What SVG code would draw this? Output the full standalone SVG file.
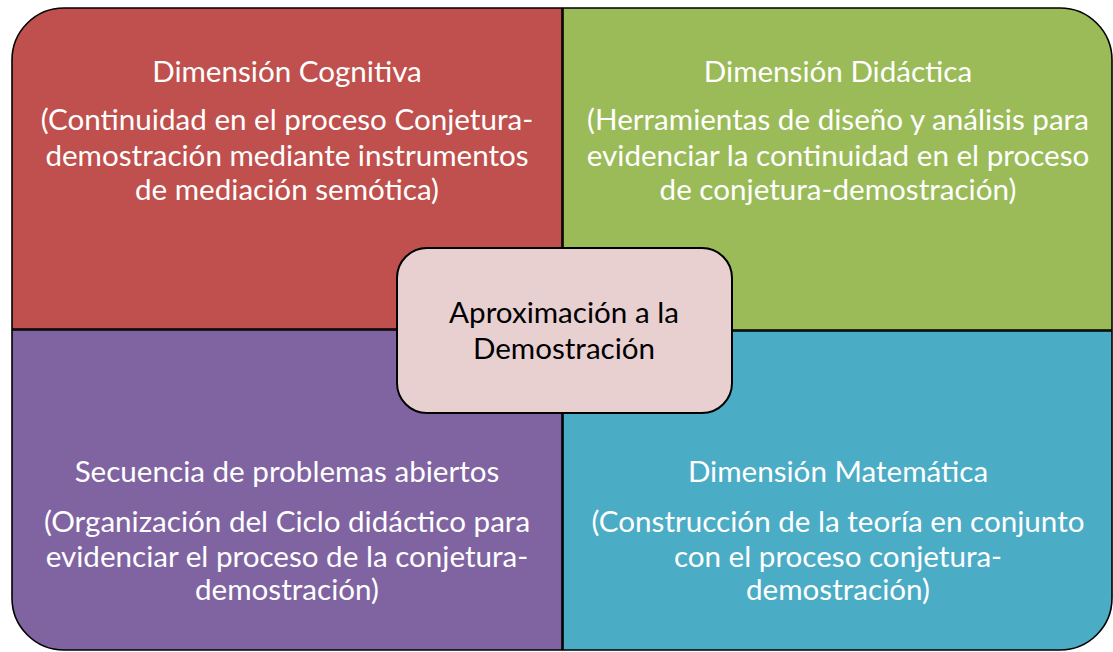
<svg xmlns="http://www.w3.org/2000/svg" width="1113" height="652" viewBox="0 0 1113 652">
  <style>
    .quad { stroke: #000; stroke-width: 1.6; }
    .lbl { font-family: Lato, "Liberation Sans", sans-serif; font-size: 29.6px; fill: #fff; text-anchor: middle; }
    .ctr { font-family: Lato, "Liberation Sans", sans-serif; font-size: 29.6px; fill: #000; text-anchor: middle; }
    .glint { fill: none; stroke-width: 4; stroke-linecap: round; filter: url(#soft); }
  </style>
  <defs>
    <filter id="soft" x="-10%" y="-50%" width="120%" height="200%">
      <feGaussianBlur stdDeviation="0.8"/>
    </filter>
  </defs>

  <rect width="1113" height="652" fill="#fff"/>

  <g id="cognitiva">
    <path class="quad" fill="#C0504D" d="M562,8 V329 H12 V60 A52,52 0 0 1 64,8 Z"/>
    <line class="glint" x1="65" y1="20" x2="545" y2="20" stroke="#F7B0AE"/>
    <line class="glint" x1="28" y1="319" x2="548" y2="319" stroke="#F7B0AE"/>
    <text class="lbl" x="287" y="82">Dimensión Cognitiva</text>
    <text class="lbl" x="287" y="130">(Continuidad en el proceso Conjetura-</text>
    <text class="lbl" x="287" y="166">demostración mediante instrumentos</text>
    <text class="lbl" x="287" y="200">de mediación semótica)</text>
  </g>

  <g id="didactica">
    <path class="quad" fill="#9BBB59" d="M563,8 H1060 A52,52 0 0 1 1112,60 V330 H563 Z"/>
    <line class="glint" x1="575" y1="22" x2="575" y2="318" stroke="#EAFAB5"/>
    <line class="glint" x1="1103" y1="55" x2="1103" y2="318" stroke="#EAFAB5"/>
    <text class="lbl" x="838" y="82">Dimensión Didáctica</text>
    <text class="lbl" x="838" y="130">(Herramientas de diseño y análisis para</text>
    <text class="lbl" x="838" y="166">evidenciar la continuidad en el proceso</text>
    <text class="lbl" x="838" y="200">de conjetura-demostración)</text>
  </g>

  <g id="secuencia">
    <path class="quad" fill="#8064A2" d="M12,330 H562 V650 H64 A52,52 0 0 1 12,598 Z"/>
    <line class="glint" x1="23" y1="343" x2="23" y2="598" stroke="#E6D2FA"/>
    <line class="glint" x1="550" y1="343" x2="550" y2="640" stroke="#E6D2FA"/>
    <text class="lbl" x="287" y="482">Secuencia de problemas abiertos</text>
    <text class="lbl" x="287" y="532">(Organización del Ciclo didáctico para</text>
    <text class="lbl" x="287" y="567">evidenciar el proceso de la conjetura-</text>
    <text class="lbl" x="287" y="600">demostración)</text>
  </g>

  <g id="matematica">
    <path class="quad" fill="#4BACC6" d="M563,331 H1112 V598 A52,52 0 0 1 1060,650 H563 Z"/>
    <line class="glint" x1="576" y1="342" x2="1100" y2="342" stroke="#BDF4FF"/>
    <line class="glint" x1="576" y1="640" x2="1070" y2="640" stroke="#BDF4FF"/>
    <text class="lbl" x="838" y="482">Dimensión Matemática</text>
    <text class="lbl" x="838" y="532">(Construcción de la teoría en conjunto</text>
    <text class="lbl" x="838" y="567">con el proceso conjetura-</text>
    <text class="lbl" x="838" y="600">demostración)</text>
  </g>

  <g id="aproximacion">
    <rect x="397" y="248" width="335" height="165" rx="30" ry="30" fill="#E8D0D1" stroke="#000" stroke-width="2"/>
    <line class="glint" x1="407" y1="280" x2="407" y2="385" stroke="#fff"/>
    <line class="glint" x1="722" y1="280" x2="722" y2="385" stroke="#fff"/>
    <text class="ctr" x="564" y="323">Aproximación a la</text>
    <text class="ctr" x="564" y="359">Demostración</text>
  </g>
</svg>
